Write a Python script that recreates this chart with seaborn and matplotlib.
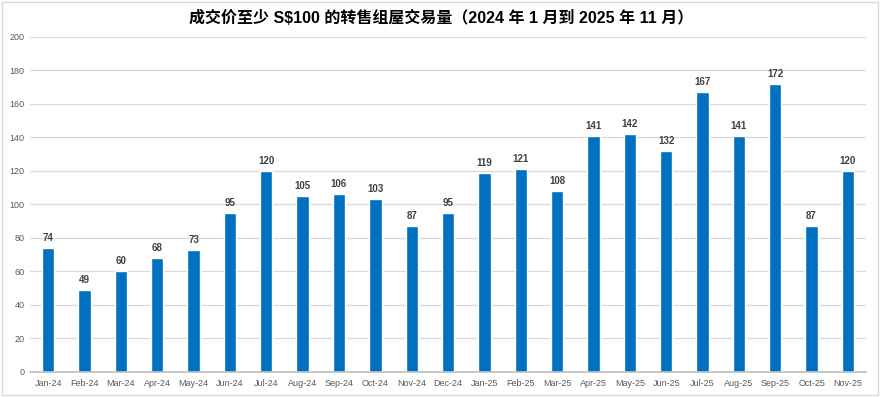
import numpy as np
import pandas as pd
import matplotlib
matplotlib.use("Agg")
import matplotlib.pyplot as plt
import seaborn as sns
from matplotlib.patches import Rectangle

# Data
months = ["Jan-24", "Feb-24", "Mar-24", "Apr-24", "May-24", "Jun-24", "Jul-24", "Aug-24",
          "Sep-24", "Oct-24", "Nov-24", "Dec-24", "Jan-25", "Feb-25", "Mar-25", "Apr-25",
          "May-25", "Jun-25", "Jul-25", "Aug-25", "Sep-25", "Oct-25", "Nov-25"]
volumes = [74, 49, 60, 68, 73, 95, 120, 105, 106, 103, 87, 95,
           119, 121, 108, 141, 142, 132, 167, 141, 172, 87, 120]
y_ticks = list(range(0, 201, 20))
title = "成交价至少 S$100 的转售组屋交易量（2024 年 1 月到 2025 年 11 月）"

df = pd.DataFrame({"Month": months, "Volume": volumes})

sns.set_theme(style="white")
plt.rcParams["font.family"] = ["Liberation Sans", "Noto Sans CJK SC", "DejaVu Sans"]

fig = plt.figure(figsize=(8.82, 3.97), dpi=100)
ax = fig.add_axes([0.034, 0.063, 0.948, 0.844])

sns.barplot(data=df, x="Month", y="Volume", color="#0070C0", saturation=1,
            width=0.34, ax=ax)

ax.set_ylim(0, 200)
ax.set_xlim(-0.5, len(months) - 0.5)
ax.set_yticks(y_ticks)
ax.set_xlabel("")
ax.set_ylabel("")
ax.yaxis.grid(True, color="#d9d9d9", linewidth=0.9)
ax.set_axisbelow(True)
for s in ["top", "right", "left"]:
    ax.spines[s].set_visible(False)
ax.spines["bottom"].set_color("#bfbfbf")
ax.tick_params(axis="y", length=0, labelsize=6.5, labelcolor="#595959", pad=4)
ax.tick_params(axis="x", length=0, labelsize=6.5, labelcolor="#595959", pad=5)
ax.set_xticks(np.arange(-0.5, len(months), 1), minor=True)
ax.tick_params(axis="x", which="minor", length=4, color="#bfbfbf", direction="out")

for i, v in enumerate(volumes):
    ax.text(i, v + 3, str(v), ha="center", va="bottom", fontsize=7,
            fontweight="bold", color="#404040")

fig.text(0.5, 0.955, title, ha="center", va="center", fontsize=11.5,
         fontweight="bold", color="#000000",
         family=["Liberation Sans", "Noto Sans CJK SC"])

fig.patches.append(Rectangle((0.002, 0.004), 0.994, 0.99, transform=fig.transFigure,
                             fill=False, edgecolor="#d9d9d9", linewidth=1))

plt.savefig("out.png", dpi=100)
